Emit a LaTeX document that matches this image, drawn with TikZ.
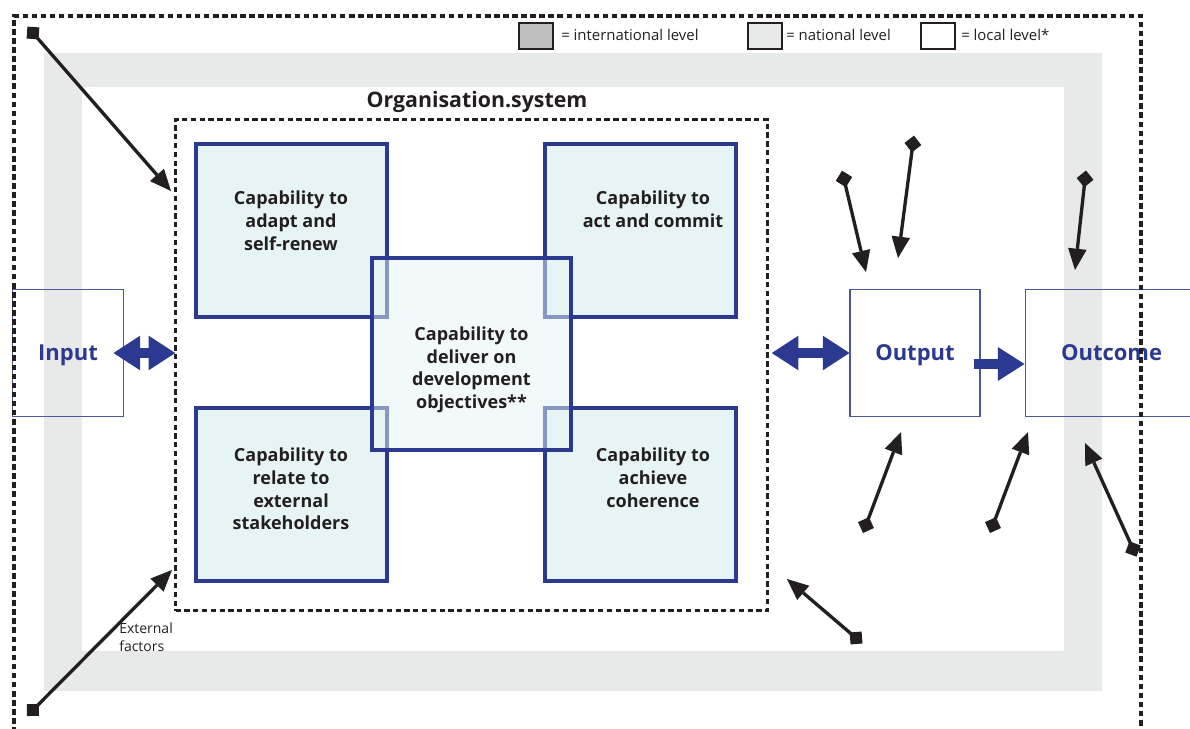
\documentclass[tikz,border=0pt]{standalone}
\usepackage{fontspec}
\setmainfont{Open Sans}
\usetikzlibrary{arrows.meta}
\definecolor{navy}{HTML}{2B3990}
\definecolor{capfill}{HTML}{E6F4F6}
\definecolor{band}{HTML}{E8EAE9}
\definecolor{legendgrey}{HTML}{BEBEBE}
\definecolor{ink}{HTML}{231F20}
\begin{document}
\begin{tikzpicture}[x=0.75pt,y=-0.75pt,
  capbox/.style={draw=navy, line width=2.3pt, fill=capfill, inner sep=0pt,
    minimum width=143.25pt, minimum height=129.75pt},
  centrebox/.style={capbox, fill opacity=0.5, minimum width=149.25pt, minimum height=144pt},
  captext/.style={font=\fontsize{13.5}{16.9}\selectfont\bfseries, text=ink, align=center, inner sep=0pt},
  flowbox/.style={draw=navy!85, line width=0.8pt, inner sep=0pt, minimum height=95.6pt, text depth=0pt,
    font=\fontsize{16.5}{20}\selectfont\bfseries, text=navy},
  orgbox/.style={draw=ink, line width=2.6pt, dash pattern=on 4pt off 2.6pt, inner sep=0pt,
    minimum width=444pt, minimum height=368.25pt},
  outerdash/.style={draw=ink, line width=3pt, dash pattern=on 4.2pt off 2.6pt},
  legsq/.style={draw=ink, line width=1.1pt, inner sep=0pt, minimum width=25.5pt, minimum height=19.5pt},
  legtext/.style={font=\fontsize{11.2}{13}\selectfont, text=ink, inner sep=0pt, anchor=west},
  bluearrow/.style={draw=navy, line width=7.5pt, {Triangle[length=20pt,width=26pt,line width=0pt]}-{Triangle[length=20pt,width=26pt,line width=0pt]}},
  bluearrowone/.style={draw=navy, line width=7pt, -{Triangle[length=20pt,width=25.5pt,line width=0pt]}},
  extarrow/.style={draw=ink, line width=2.5pt, {Diamond[length=12.7pt,width=12.7pt,line width=0pt]}-{Triangle[length=16pt,width=14pt,line width=0pt]}}
]
\useasboundingbox (0,0) rectangle (1190,729);
% national / local levels
\fill[band] (44,53) rectangle (1102,691);
\fill[white] (82,87) rectangle (1064,651);
% legend
\node[legsq, fill=legendgrey] (lg1) at (536,36) {};
\node[legtext] (lt1) at (561,35) {= international level};
\node[legsq, fill=band] (lg2) at (765,36) {};
\node[legtext] (lt2) at (786,35) {= national level};
\node[legsq, fill=white] (lg3) at (938,36) {};
\node[legtext] (lt3) at (961,35) {= local level*};
% organisation system
\node[font=\fontsize{16}{19}\selectfont\bfseries, text=ink, inner sep=0pt] (title) at (477,102) {Organisation.system};
\node[orgbox] (org) at (471.5,365) {};
% capability boxes
\node[capbox] (tl) at (291.5,230.5) {};
\node[capbox] (tr) at (640.5,230.5) {};
\node[capbox] (bl) at (291.5,494.5) {};
\node[capbox] (br) at (640.5,494.5) {};
\node[centrebox] (ctr) at (471.5,354) {};
\node[captext, anchor=north] (tlt) at (291,191) {Capability to\\adapt and\\self-renew};
\node[captext, anchor=north] (trt) at (653,191) {Capability to\\act and commit};
\node[captext, anchor=north] (blt) at (291,448) {Capability to\\relate to\\external\\stakeholders};
\node[captext, anchor=north] (brt) at (653,448) {Capability to\\achieve\\coherence};
\node[captext] (ctrt) at (471.5,370) {Capability to\\deliver on\\development\\objectives**};
% input, output, outcome
\node[flowbox, minimum width=83.25pt] (in) at (68,353) {Input};
\node[flowbox, minimum width=97.5pt] (out) at (915,353) {Output};
\node[flowbox, anchor=west, align=left, text width=170pt, inner xsep=27pt] (outc) at (1024.5,353) {Outcome};
% flows
\draw[bluearrow] ([xshift=-7.9pt]in.east) -- ([xshift=1.1pt]in.east -| org.west);
\draw[bluearrow] ([xshift=1.9pt]out.west -| org.east) -- (out.west);
\draw[bluearrowone] ([xshift=-4.9pt,yshift=-8.25pt]out.east) -- ([yshift=-8.25pt]outc.west);
% external factors
\coordinate (e1s) at (27.4,26.6);  \coordinate (e1t) at (171,191);
\coordinate (e2s) at (27,716);     \coordinate (e2t) at (172,570);
\coordinate (e3s) at (862.5,643.5);\coordinate (e3t) at (787,579);
\coordinate (e4s) at (842,170.7);  \coordinate (e4t) at (866,272);
\coordinate (e5s) at (914,135.6);  \coordinate (e5t) at (898,258);
\coordinate (e6s) at (1086,170.5); \coordinate (e6t) at (1075,270);
\coordinate (e7s) at (863,533);    \coordinate (e7t) at (901,432);
\coordinate (e8s) at (990,533);    \coordinate (e8t) at (1028,432);
\coordinate (e9s) at (1136.5,556.7);\coordinate (e9t) at (1085,443);
\foreach \i in {1,...,9} {\draw[extarrow] (e\i s) -- (e\i t);}
\node[font=\fontsize{10.5}{13.5}\selectfont, text=ink, align=left, inner sep=0pt, anchor=north west] (ext) at (119,623) {External\\factors};
% international level boundary
\draw[outerdash] (14,760) -- (14,16) -- (1141,16) -- (1141,760);
\end{tikzpicture}
\end{document}
